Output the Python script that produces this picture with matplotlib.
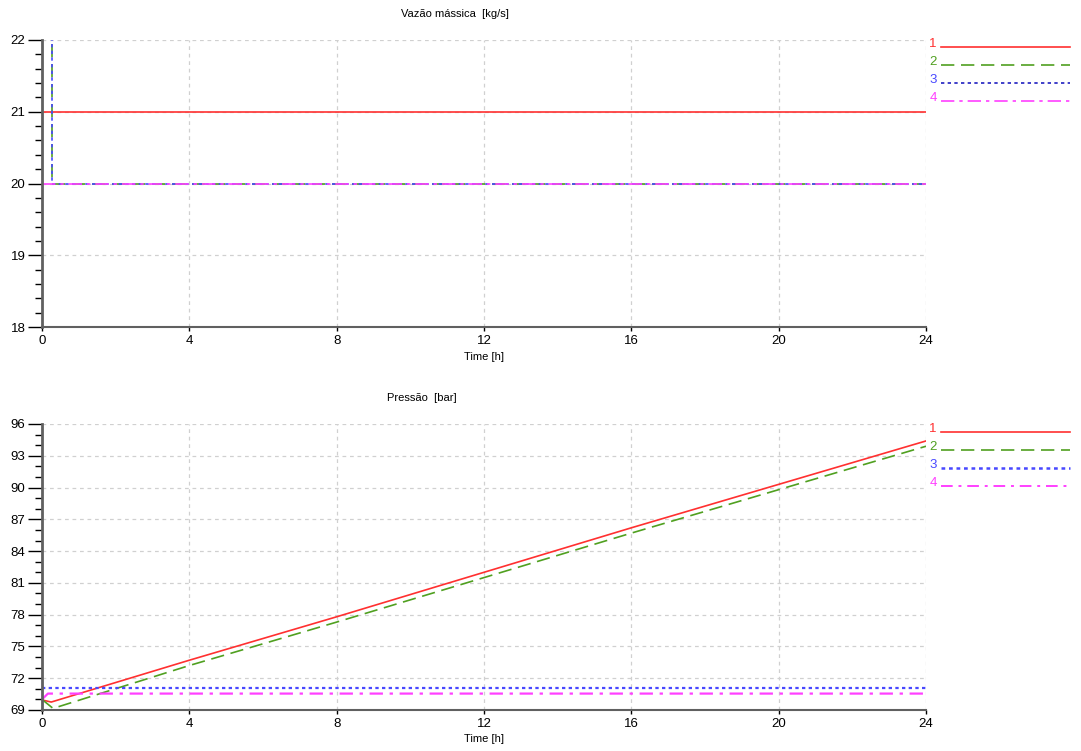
import matplotlib.pyplot as plt
from matplotlib.ticker import MultipleLocator
from matplotlib.lines import Line2D

# top panel: mass flow [kg/s]
t1_red = [0, 24]
q_red = [21, 21]
t1_step = [0.28, 0.28, 24]
q_green = [22.5, 20, 20]
q_blue = [22.5, 20, 20]
t1_mag = [0, 24]
q_mag = [20, 20]

# bottom panel: pressure [bar]
t2_red = [0, 0.25, 4, 8, 12, 16, 20, 24]
p_red = [69.95, 69.75, 73.7, 77.8, 82.0, 86.2, 90.3, 94.4]
t2_green = [0, 0.3, 4, 8, 12, 16, 20, 24]
p_green = [70.0, 69.15, 73.2, 77.3, 81.5, 85.7, 89.8, 93.9]
t2_blue = [0, 24]
p_blue = [71.05, 71.05]
t2_mag = [0, 0.16, 24]
p_mag = [70.0, 70.55, 70.55]

labels = ["1", "2", "3", "4"]
RED, GREEN, BLUE, MAG = "#ff3030", "#50a020", "#4848ff", "#ff40ff"

plt.rcParams['font.family'] = ['Liberation Sans', 'DejaVu Sans']
fig = plt.figure(figsize=(10.81, 7.51), dpi=100)
W, H = 1081, 751

def setup(ax, ylo, yhi, ymaj, ymin):
    ax.set_xlim(0, 24)
    ax.set_ylim(ylo, yhi)
    ax.xaxis.set_major_locator(MultipleLocator(4))
    ax.yaxis.set_major_locator(MultipleLocator(ymaj))
    ax.yaxis.set_minor_locator(MultipleLocator(ymin))
    for s in ["top", "right"]:
        ax.spines[s].set_visible(False)
    for s in ["left", "bottom"]:
        ax.spines[s].set_color("#606060")
    ax.spines["left"].set_linewidth(2)
    ax.spines["bottom"].set_linewidth(1.5)
    ax.grid(True, which="major", color="#d0d0d0", linestyle=(0, (3, 3)), linewidth=0.9)
    ax.tick_params(axis="y", which="major", length=10, width=1, pad=2, labelsize=9.5)
    ax.tick_params(axis="y", which="minor", length=5, width=1)
    ax.tick_params(axis="x", length=3, width=1, pad=3, labelsize=9.5)
    ax.set_xlabel("Time [h]", fontsize=8, labelpad=3)
    ax.set_axisbelow(True)

def fx(p):
    return p / W

def fy(p):
    return 1 - p / H

ax1 = fig.add_axes([fx(42), fy(327), fx(926) - fx(42), fy(40) - fy(327)])
ax2 = fig.add_axes([fx(42), fy(710), fx(926) - fx(42), fy(424) - fy(710)])
setup(ax1, 18, 22, 1, 0.2)
setup(ax2, 69, 96, 3, 1)

ax1.plot(t1_red, q_red, color=RED, lw=1.2)
ax1.plot(t1_step, q_green, color=GREEN, lw=1.2, ls=(0, (8, 4)))
ax1.plot(t1_step, q_blue, color=BLUE, lw=1.2, ls=(0, (2, 2)))
ax1.plot(t1_mag, q_mag, color=MAG, lw=1.2, ls=(0, (8, 3, 2, 3)))

ax2.plot(t2_red, p_red, color=RED, lw=1.2)
ax2.plot(t2_green, p_green, color=GREEN, lw=1.2, ls=(0, (8, 4)))
ax2.plot(t2_blue, p_blue, color=BLUE, lw=1.6, ls=(0, (1.5, 1.5)))
ax2.plot(t2_mag, p_mag, color=MAG, lw=1.6, ls=(0, (6, 3, 1.5, 3)))

fig.text(fx(455), fy(14), "Vazão mássica  [kg/s]", ha="center", va="center", fontsize=8)
fig.text(fx(422), fy(398), "Pressão  [bar]", ha="center", va="center", fontsize=8)

# legends at the right side
styles = [
    (RED, "-", 1.2),
    (GREEN, (0, (8, 4)), 1.2),
    ("#2020c0", (0, (2, 2)), 1.2),
    (MAG, (0, (8, 3, 2, 3)), 1.2),
]
styles2 = [
    (RED, "-", 1.2),
    (GREEN, (0, (8, 4)), 1.2),
    (BLUE, (0, (1.5, 1.5)), 1.8),
    (MAG, (0, (6, 3, 1.5, 3)), 1.4),
]
text_colors = [RED, GREEN, BLUE, MAG]
for y0, sty in [(47, styles), (432, styles2)]:
    for i, (lab, (c, ls, lw)) in enumerate(zip(labels, sty)):
        yy = y0 + i * 18
        fig.text(fx(933), fy(yy - 3), lab, color=text_colors[i], fontsize=9.5,
                 ha="center", va="center")
        fig.add_artist(Line2D([fx(941), fx(1070)], [fy(yy), fy(yy)],
                              color=c, ls=ls, lw=lw))

fig.savefig("out.png", dpi=100)
